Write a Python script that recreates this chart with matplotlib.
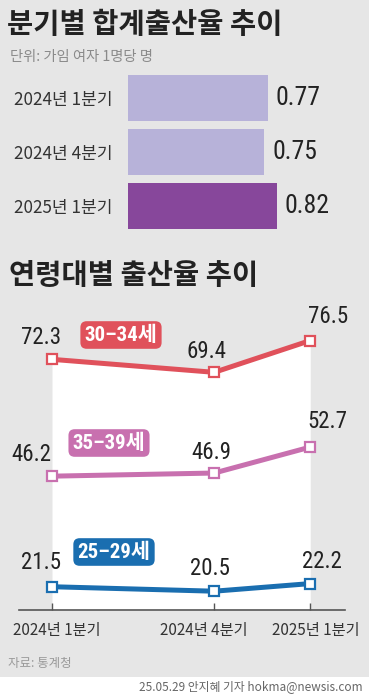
import matplotlib
matplotlib.use('Agg')
import matplotlib.pyplot as plt
from matplotlib import font_manager
from matplotlib.patches import Rectangle

# ---------------- data ----------------
quarters = ['2024년 1분기', '2024년 4분기', '2025년 1분기']
tfr = [0.77, 0.75, 0.82]
bar_colors = ['#b7b2d9', '#b7b2d9', '#87479b']

age_groups = ['30–34세', '35–39세', '25–29세']
rate_30_34 = [72.3, 69.4, 76.5]
rate_35_39 = [46.2, 46.9, 52.7]
rate_25_29 = [21.5, 20.5, 22.2]
series = [rate_30_34, rate_35_39, rate_25_29]
line_colors = ['#e0515b', '#c870af', '#1a6eb0']
x_pos = [0, 1.69, 2.69]

# ---------------- fonts ----------------
names = {f.name for f in font_manager.fontManager.ttflist}
def pick(*cands):
    for c in cands:
        if c in names:
            return c
    return 'DejaVu Sans'
KR = 'Noto Sans CJK KR'
NARROW = pick('Liberation Sans Narrow', 'Roboto Condensed', 'Liberation Sans')
plt.rcParams['font.family'] = [KR, 'DejaVu Sans']

W, H = 369, 697
DPI = 100
BG = '#e6e6e6'
fig = plt.figure(figsize=(W / DPI, H / DPI), dpi=DPI, facecolor=BG)

def fx(x):
    return x / W
def fy(y):
    return 1 - y / H
def rect(x0, y0, x1, y1):
    return [fx(x0), fy(y1), (x1 - x0) / W, (y1 - y0) / H]
PT = 72 / DPI  # points per pixel

# ---------------- titles ----------------
fig.text(fx(7), fy(25), '분기별 합계출산율 추이', fontsize=20.5, fontweight='bold',
         color='#222222', va='center', ha='left', family=[KR])
fig.text(fx(10), fy(57), '단위: 가임 여자 1명당 명', fontsize=10.3, color='#8a8a8a',
         va='center', ha='left', family=[KR])

# ---------------- bar chart ----------------
axb = fig.add_axes(rect(128, 71, 369, 233))
axb.set_facecolor('none')
yb = list(range(len(quarters)))
axb.barh(yb, tfr, height=0.852, color=bar_colors)
axb.set_xlim(0, 241 / 181.6)
axb.set_ylim(2.5, -0.5)
axb.set_yticks(yb)
axb.set_yticklabels(quarters, fontsize=12.3, color='#333333', family=[KR])
axb.tick_params(axis='y', length=0, pad=11)
axb.set_xticks([])
for s in axb.spines.values():
    s.set_visible(False)
for i, v in enumerate(tfr):
    axb.annotate(f'{v:.2f}', xy=(v, i), xytext=(8 * PT, 0), textcoords='offset points',
                 ha='left', va='center', fontsize=18.5,
                 color='#222222', family=[NARROW, 'DejaVu Sans'])

# ---------------- second title ----------------
fig.text(fx(9), fy(276), '연령대별 출산율 추이', fontsize=20.5, fontweight='bold',
         color='#222222', va='center', ha='left', family=[KR])

# ---------------- line chart ----------------
axl = fig.add_axes(rect(19, 300, 345, 610))
axl.set_facecolor('none')
ybot = 16.3
axl.set_xlim(-33 / 96, 293 / 96)
axl.set_ylim(ybot, ybot + 310 / 4.476)
axl.fill_between(x_pos, rate_30_34, ybot, color='white', lw=0, zorder=0)

offsets = [
    [(-11, 22), (-8, 21), (18, 24)],
    [(-21, 22), (-3, 21), (17, 26)],
    [(-11, 24), (-4, 23), (12, 22)],
]
for vals, col, offs in zip(series, line_colors, offsets):
    axl.plot(x_pos, vals, color=col, lw=3.6, zorder=2, solid_capstyle='butt')
    axl.plot(x_pos, vals, ls='none', marker='s', ms=7.4, mfc='white', mec=col,
             mew=1.6, zorder=3)
    for x, v, (dx, dy) in zip(x_pos, vals, offs):
        axl.annotate(f'{v:.1f}', xy=(x, v), xytext=(dx * PT, dy * PT),
                     textcoords='offset points', ha='center', va='center',
                     fontsize=16.5, color='#222222', family=[NARROW, 'DejaVu Sans'])

# group labels
label_pos = [(121, 335), (109, 443), (114, 552)]
for name, col, (px, py) in zip(age_groups, line_colors, label_pos):
    fig.text(fx(px), fy(py), name, fontsize=15, fontweight='bold', color='white',
             ha='center', va='center', family=[NARROW, KR],
             bbox=dict(boxstyle='round,pad=0.2,rounding_size=0.3', fc=col, ec='none'))

for s in ['top', 'left', 'right']:
    axl.spines[s].set_visible(False)
axl.spines['bottom'].set_color('#555555')
axl.spines['bottom'].set_linewidth(1.2)
axl.set_yticks([])
axl.set_xticks(x_pos)
axl.set_xticklabels([])
axl.tick_params(axis='x', direction='in', length=5, width=1, color='#555555')
tick_dx = [5, -10, 6]
for x, lab, dx in zip(x_pos, quarters, tick_dx):
    axl.annotate(lab, xy=(x, 0), xycoords=('data', 'axes fraction'),
                 xytext=(dx * PT, -20 * PT), textcoords='offset points',
                 ha='center', va='center', fontsize=11, color='#333333', family=[KR])

# ---------------- source / credit ----------------
fig.text(fx(8), fy(664), '자료: 통계청', fontsize=9, color='#9a9a9a',
         ha='left', va='center', family=[KR])
fig.patches.append(Rectangle((0, 0), 1, fy(677), transform=fig.transFigure,
                             fc='white', ec='none', zorder=-1))
fig.text(fx(363), fy(687), '25.05.29 안지혜 기자 hokma@newsis.com', fontsize=8.5,
         color='#666666', ha='right', va='center', family=[KR])

fig.savefig('out.png', dpi=DPI, facecolor=BG)
